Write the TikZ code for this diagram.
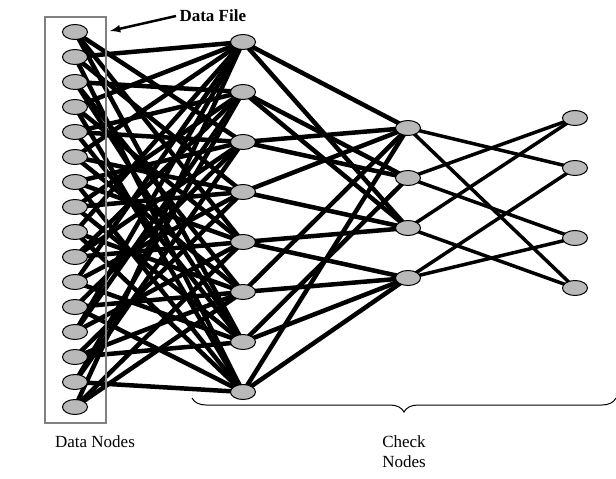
\documentclass[tikz,border=0pt]{standalone}
\usepackage{fontspec}
\setmainfont{Liberation Serif}
\usetikzlibrary{decorations.pathreplacing,shapes.geometric}
\tikzset{vnode/.style = {draw, ellipse, fill=gray!55, line width=1pt, minimum width=25pt, minimum height=15pt, inner sep=0}}
\tikzset{fat/.style = {line width=4.5pt}}
\tikzset{thin/.style = {line width=3.5pt}}
\begin{document}
\begin{tikzpicture}[x=1pt, y=-1pt, font=\fontsize{17}{20}\selectfont]
      \useasboundingbox (0,0) rectangle (616,479);

      % data nodes
      \foreach \i in {1,...,16}
        \coordinate (a\i) at (75, {32+25*(\i-1)});
      \foreach \i in {1,...,8}
        \coordinate (b\i) at (243, {42+50*(\i-1)});
      \coordinate (c1) at (408, 128);
      \coordinate (c2) at (408, 178);
      \coordinate (c3) at (408, 228);
      \coordinate (c4) at (408, 278);
      \coordinate (d1) at (575, 118);
      \coordinate (d2) at (575, 168);
      \coordinate (d3) at (575, 238);
      \coordinate (d4) at (575, 288);

      \foreach \i/\l in {1/{3,5,7}, 2/{1,4,8}, 3/{2,6,7}, 4/{1,5,8}, 5/{2,3,7}, 6/{1,4,6},
                         7/{3,5,8}, 8/{2,4,7}, 9/{1,6,8}, 10/{2,3,5}, 11/{1,4,7}, 12/{3,6,8},
                         13/{1,2,5}, 14/{4,6,7}, 15/{2,3,8}, 16/{1,5,6}}
        \foreach \j in \l
          \draw [fat] (a\i) -- (b\j);

      \foreach \i/\j in {1/1, 1/3, 2/2, 2/3, 3/1, 3/2, 4/1, 4/3, 5/3, 5/4, 6/4, 6/1, 7/2, 7/4, 8/1, 8/4}
        \draw [fat] (b\i) -- (c\j);

      \foreach \i/\j in {1/2, 1/4, 2/1, 2/3, 3/1, 3/4, 4/2, 4/3}
        \draw [thin] (c\i) -- (d\j);

      \draw [gray, line width=1.5pt] (45, 17) rectangle (106, 423);

      \foreach \n in {a1,a2,a3,a4,a5,a6,a7,a8,a9,a10,a11,a12,a13,a14,a15,a16,b1,b2,b3,b4,b5,b6,b7,b8,c1,c2,c3,c4,d1,d2,d3,d4}
        \node [vnode] (n\n) at (\n) {};

      \node [right] (file) at (176, 16) {\textbf{Data File}};
      \draw [-latex, line width=2.5pt] (file.west) -- (110, 31);

      \draw [decorate, decoration={brace, mirror, amplitude=14pt}, line width=1pt] (192, 398) -- (616, 398);
      \node (dlab) at (95, 442) {Data Nodes};
      \node [align=center] (clab) at (404, 452) {Check\\Nodes};
    \end{tikzpicture}
\end{document}
